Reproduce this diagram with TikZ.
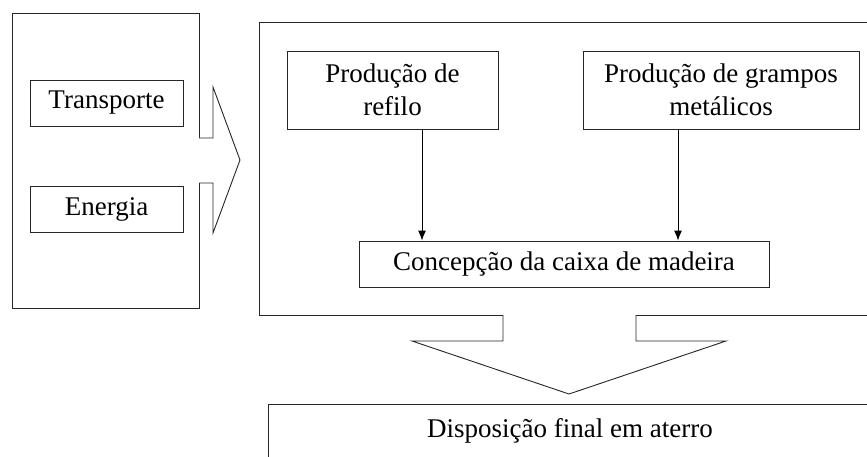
\documentclass[tikz,border=0pt]{standalone}
\usepackage{fontspec}
\setmainfont{Liberation Serif}
\usetikzlibrary{arrows.meta}
\begin{document}
\begin{tikzpicture}[x=1pt,y=-1pt,
  box/.style={draw=black!85, line width=0.9pt, inner sep=0pt, align=center,
    font=\fontsize{27}{33}\selectfont},
  blockarrow/.style={draw=black!85, line width=0.9pt, line join=miter},
  flow/.style={draw=black, line width=0.9pt, -{Latex[length=10pt,width=8pt]}}]
\useasboundingbox (0,0) rectangle (867,457);
\clip (0,0) rectangle (867,457);
\fill[white] (0,0) rectangle (867,457);
% outer boxes
\node[box, minimum width=187, minimum height=295] (left) at (105.5,160.5) {};
\node[box, minimum width=641, minimum height=293] (proc) at (579.5,168.5) {};
% inner boxes
\node[box, minimum width=153, minimum height=46] (transp) at (106.5,103) {Transporte};
\node[box, minimum width=153, minimum height=46] (energia) at (106.5,209) {Energia};
\node[box, minimum width=211, minimum height=78] (refilo) at (392.5,90) {Produção de\\refilo};
\node[box, minimum width=276, minimum height=78] (grampos) at (721,90) {Produção de grampos\\metálicos};
\node[box, minimum width=410, minimum height=46] (concep) at (564,264) {Concepção da caixa de madeira};
\node[box, minimum width=604, minimum height=54] (disp) at (570,431) {Disposição final em aterro};
% connectors
\coordinate (c1) at (422,0);
\coordinate (c2) at (678,0);
\draw[flow] (refilo.south -| c1) -- (concep.north -| c1);
\draw[flow] (grampos.south -| c2) -- (concep.north -| c2);
% block arrow right
\fill[white] (197.5,138) -- (213,138) -- (213,87) -- (240,160) -- (213,233) -- (213,183) -- (197.5,183) -- cycle;
\draw[blockarrow] (199,138) -- (213,138) -- (213,87) -- (240,160) -- (213,233) -- (213,183) -- (199,183);
% block arrow down
\fill[white] (503,313.5) -- (503,341) -- (412,341) -- (569,394) -- (726,341) -- (636,341) -- (636,313.5) -- cycle;
\draw[blockarrow] (503,315) -- (503,341) -- (412,341) -- (569,394) -- (726,341) -- (636,341) -- (636,315);
\end{tikzpicture}
\end{document}
